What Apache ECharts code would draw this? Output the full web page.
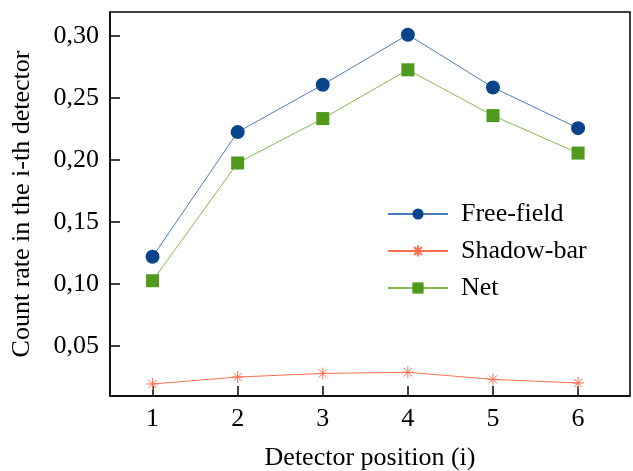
<!DOCTYPE html>
<html>
<head>
<meta charset="utf-8">
<script src="https://cdn.jsdelivr.net/npm/echarts@6/dist/echarts.min.js"></script>
<style>
  html, body { margin: 0; padding: 0; background: #fff; }
  #chart { width: 633px; height: 471px; }
</style>
</head>
<body>
<div id="chart"></div>
<script>
// detector positions
const positions = [1, 2, 3, 4, 5, 6];
// count rates
const freeField = [0.122, 0.2225, 0.2607, 0.301, 0.2585, 0.2257];
const shadowBar = [0.0195, 0.0251, 0.028, 0.0289, 0.0232, 0.0203];
const net = [0.1027, 0.1976, 0.2334, 0.2727, 0.2358, 0.2056];
const yTicks = [0.05, 0.10, 0.15, 0.20, 0.25, 0.30];

const FONT = 'Liberation Serif';
const asterisk = 'path://M0 5 L10 5 M5 0 L5 10 M1.5 1.5 L8.5 8.5 M1.5 8.5 L8.5 1.5';

function pairs(vals) {
  return positions.map((p, i) => [p, vals[i]]);
}

const chart = echarts.init(document.getElementById('chart'));
chart.setOption({
  animation: false,
  grid: {
    left: 110, top: 12, right: 3, bottom: 75,
    outerBoundsMode: 'none',
    show: true, borderColor: '#000', borderWidth: 1.5
  },
  legend: {
    orient: 'vertical',
    left: 382, top: 196,
    itemWidth: 60, itemHeight: 14, itemGap: 11,
    textStyle: { fontFamily: FONT, fontSize: 26, color: '#000', padding: [0, 0, 0, 8] },
    data: ['Free-field', 'Shadow-bar', 'Net']
  },
  xAxis: {
    type: 'value',
    min: 0.5, max: 6.61,
    name: 'Detector position (i)',
    nameLocation: 'middle',
    nameGap: 49,
    nameTextStyle: { fontFamily: FONT, fontSize: 26, color: '#000' },
    splitLine: { show: false },
    axisLine: { lineStyle: { color: '#000', width: 1.5 } },
    axisTick: { inside: true, length: 10, lineStyle: { color: '#000', width: 1.5 }, customValues: positions },
    axisLabel: { fontFamily: FONT, fontSize: 26, color: '#000', margin: 10, customValues: positions }
  },
  yAxis: {
    type: 'value',
    min: 0.0098, max: 0.3193,
    name: 'Count rate in the i-th detector',
    nameLocation: 'middle',
    nameGap: 75,
    nameTextStyle: { fontFamily: FONT, fontSize: 26, color: '#000' },
    splitLine: { show: false },
    axisLine: { lineStyle: { color: '#000', width: 1.5 } },
    axisTick: { inside: true, length: 10, lineStyle: { color: '#000', width: 1.5 }, customValues: yTicks },
    axisLabel: {
      fontFamily: FONT, fontSize: 26, color: '#000', margin: 11, customValues: yTicks,
      formatter: v => v.toFixed(2).replace('.', ',')
    }
  },
  series: [
    {
      name: 'Free-field', type: 'line', data: pairs(freeField),
      symbol: 'circle', symbolSize: 14,
      lineStyle: { color: '#4a7cbd', width: 1 },
      itemStyle: { color: '#0a458b' }
    },
    {
      name: 'Shadow-bar', type: 'line', data: pairs(shadowBar),
      symbol: asterisk, symbolSize: 12,
      lineStyle: { color: '#ff6f4f', width: 1 },
      itemStyle: { color: '#ff6f4f', borderColor: '#ff6f4f', borderWidth: 1 }
    },
    {
      name: 'Net', type: 'line', data: pairs(net),
      symbol: 'rect', symbolSize: 13,
      lineStyle: { color: '#7fbb4e', width: 1 },
      itemStyle: { color: '#4f9a1d' }
    }
  ]
});
</script>
</body>
</html>
